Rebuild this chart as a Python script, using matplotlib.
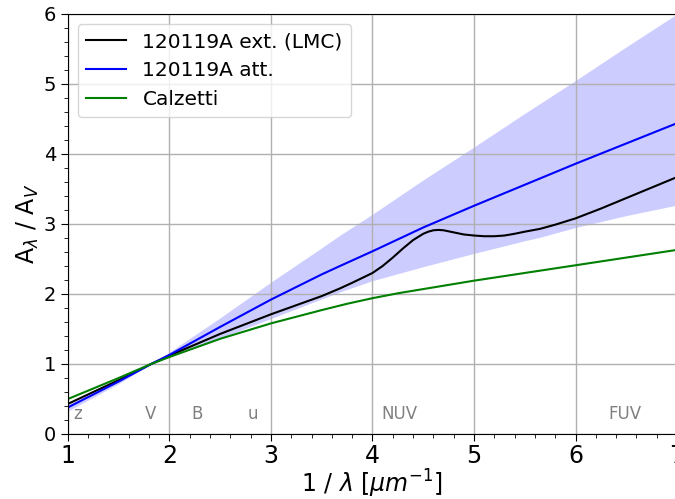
import numpy as np
import matplotlib
matplotlib.use("Agg")
import matplotlib.pyplot as plt
from matplotlib.ticker import MultipleLocator

# inverse wavelength grid (1/micron) for the attenuation curve and its band
x_att = [1.0, 1.5, 1.82, 2.0, 2.5, 3.0, 3.5, 3.68, 4.0, 4.5, 5.0, 5.5, 5.65, 6.0, 6.5, 7.0]
att = [0.38, 0.75, 1.0, 1.13, 1.53, 1.92, 2.28, 2.40, 2.61, 2.95, 3.26, 3.56, 3.65, 3.86, 4.15, 4.44]
att_hi = [0.42, 0.77, 1.0, 1.17, 1.66, 2.17, 2.66, 2.84, 3.14, 3.63, 4.10, 4.58, 4.72, 5.05, 5.53, 6.0]
att_lo = [0.33, 0.72, 1.0, 1.10, 1.37, 1.65, 1.93, 2.03, 2.19, 2.39, 2.58, 2.76, 2.81, 2.95, 3.12, 3.27]

# LMC-like extinction curve (with the 2175A bump)
x_ext = [1.0, 1.5, 1.82, 2.0, 2.5, 3.0, 3.5, 3.68, 3.8, 3.9, 4.0, 4.1, 4.2, 4.3, 4.4, 4.5,
         4.55, 4.6, 4.65, 4.7, 4.8, 4.9, 5.0, 5.1, 5.2, 5.3, 5.4, 5.5, 5.65, 5.8, 6.0,
         6.25, 6.5, 6.75, 7.0]
ext = [0.43, 0.77, 1.0, 1.12, 1.43, 1.71, 1.97, 2.08, 2.16, 2.23, 2.30, 2.40, 2.52, 2.65, 2.77, 2.86,
       2.89, 2.91, 2.915, 2.91, 2.88, 2.85, 2.835, 2.825, 2.825, 2.835, 2.86, 2.89, 2.93, 2.99, 3.08,
       3.22, 3.37, 3.52, 3.67]

# Calzetti law
x_calz = [1.0, 1.5, 1.82, 2.0, 2.5, 3.0, 3.5, 3.75, 4.0, 4.25, 4.5, 5.0, 5.5, 6.0, 6.5, 7.0]
calz = [0.50, 0.80, 1.0, 1.10, 1.36, 1.58, 1.77, 1.86, 1.94, 2.01, 2.07, 2.19, 2.30, 2.41, 2.52, 2.63]

# photometric band labels
band_names = ["z", "V", "B", "u", "NUV", "FUV"]
band_pos = [1.10, 1.81, 2.27, 2.82, 4.27, 6.49]

fig = plt.figure(figsize=(6.75, 4.99), dpi=100)
ax = fig.add_axes([0.1007, 0.1303, 0.9023, 0.8417])

ax.fill_between(x_att, att_lo, att_hi, color="blue", alpha=0.2, lw=0)
ax.plot(x_ext, ext, color="black", lw=1.5, label="120119A ext. (LMC)")
ax.plot(x_att, att, color="blue", lw=1.5, label="120119A att.")
ax.plot(x_calz, calz, color="green", lw=1.5, label="Calzetti")

for name, pos in zip(band_names, band_pos):
    ax.text(pos, 0.28, name, color="gray", fontsize=12, ha="center", va="center")

ax.set_xlim(1, 7)
ax.set_ylim(0, 6)
ax.xaxis.set_minor_locator(MultipleLocator(0.2))
ax.yaxis.set_minor_locator(MultipleLocator(0.2))
ax.tick_params(axis="x", which="major", labelsize=17, length=5, pad=2)
ax.tick_params(axis="y", which="major", labelsize=14, length=5)
ax.tick_params(axis="both", which="minor", length=3)
ax.grid(True, which="major", color="#b0b0b0", lw=1)

ax.set_xlabel(r"1 / $\lambda$ [$\mu m^{-1}$]", fontsize=17, labelpad=0)
ax.set_ylabel(r"A$_\lambda$ / A$_V$", fontsize=17, labelpad=2)
ax.legend(loc="upper left", fontsize=14.5)

plt.savefig("out.png", dpi=100)
